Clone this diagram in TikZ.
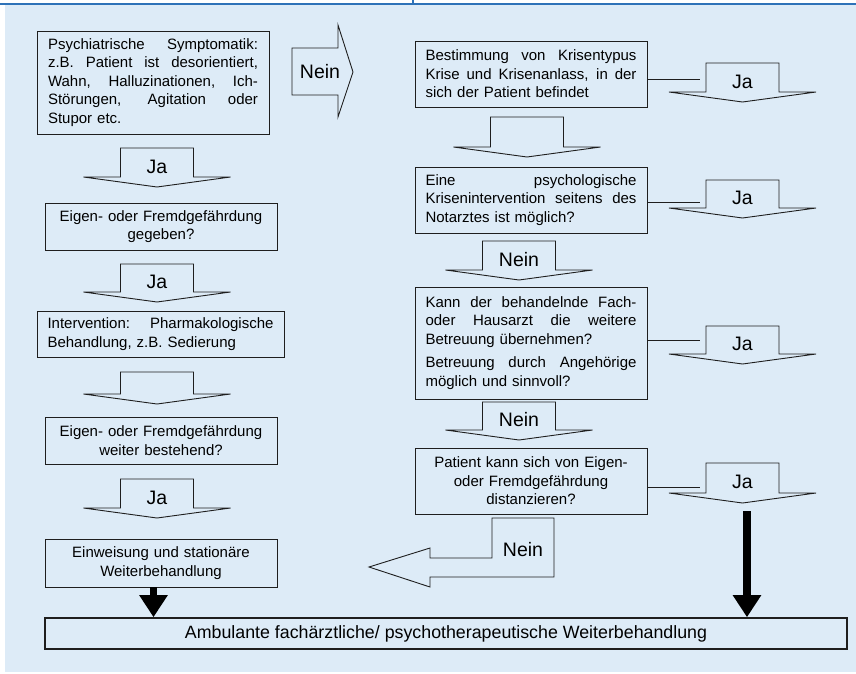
\documentclass[tikz,border=0pt]{standalone}
\usepackage{fontspec}
\setmainfont{Liberation Sans}
\usetikzlibrary{arrows.meta,calc}

\definecolor{bgblue}{HTML}{DDEBF7}
\definecolor{topblue}{HTML}{2E72B8}
\definecolor{linegray}{HTML}{1E1E1E}

\tikzset{
  box/.style={draw=linegray, line width=0.9pt, inner sep=0pt,
    font=\fontsize{15}{18.6}\selectfont},
  justbox/.style={box, text width=#1, align=left},
  centerbox/.style={box, text width=#1, align=center},
  blockarrow/.style={draw=linegray, line width=0.9pt, line join=miter},
  arrowlabel/.style={inner sep=0pt, font=\fontsize{19.5}{22}\selectfont},
  connector/.style={draw=linegray, line width=0.9pt},
  thickarrow/.style={draw=black, line width=7.5pt,
    -{Triangle[width=27pt,length=22pt]}}
}

% stretched line of a justified paragraph
\newcommand{\fullline}[1]{\makebox[\hsize][s]{\spaceskip=0pt\xspaceskip=0pt\relax #1}\\}

% block arrow pointing down: name, center x, top y, shoulder y, label
\newcommand{\downblock}[5]{%
  \draw[blockarrow] (#2-36.5,#3) -- (#2+36.5,#3) -- (#2+36.5,#4) -- (#2+73.5,#4)
    -- (#2,#4+10) -- (#2-73.5,#4) -- (#2-36.5,#4) -- cycle;
  \coordinate (#1-in) at (#2-42.5,#3);
  \coordinate (#1-tip) at (#2,#4+10);
  \node[arrowlabel] (#1) at (#2,{(#3+#4)/2+4}) {#5};
}

\begin{document}
\begin{tikzpicture}[x=1pt, y=-1pt]
  \useasboundingbox (0,0) rectangle (856,673);

  % --- background and top rule ---
  \fill[bgblue] (5,5) rectangle (856,672);
  \fill[topblue] (0,3) rectangle (856,5);
  \fill[topblue] (412,0) rectangle (414,5);

  % --- left column ---
  \node[justbox=210pt, minimum width=232pt, minimum height=103pt] (symptom) at (153,82.5) {%
    \fullline{Psychiatrische Symptomatik:}
    \fullline{z.B. Patient ist desorientiert,}
    \fullline{Wahn, Halluzinationen, Ich-}
    \fullline{Störungen, Agitation oder}
    Stupor etc.};
  \downblock{jaSym}{157}{148}{177}{Ja}

  \node[centerbox=225pt, minimum width=232pt, minimum height=47pt] (danger) at (161,226.5)
    {Eigen- oder Fremdgefährdung\\gegeben?};
  \downblock{jaDanger}{157}{264}{292}{Ja}

  \node[justbox=226pt, minimum width=247pt, minimum height=46pt] (pharma) at (160.5,334) {%
    \fullline{Intervention: Pharmakologische}
    Behandlung, z.B. Sedierung};
  \downblock{arrPharma}{157}{372}{394}{}

  \node[centerbox=225pt, minimum width=232pt, minimum height=47pt] (persist) at (161,440.5)
    {Eigen- oder Fremdgefährdung\\weiter bestehend?};
  \downblock{jaPersist}{157}{479}{508}{Ja}

  \node[centerbox=225pt, minimum width=232pt, minimum height=48pt] (admit) at (161,563)
    {Einweisung und stationäre\\Weiterbehandlung};

  % --- Nein to the right column ---
  \draw[blockarrow] (292,48) -- (338,48) -- (338,25) -- (353,72) -- (338,117)
    -- (338,95) -- (292,95) -- cycle;
  \node[arrowlabel] (neinSym) at (320,72) {Nein};

  % --- right column ---
  \node[justbox=211pt, minimum width=232pt, minimum height=66pt] (crisis) at (531,74) {%
    \fullline{Bestimmung von Krisentypus}
    \fullline{Krise und Krisenanlass, in der}
    sich der Patient befindet};
  \downblock{jaCrisis}{742.5}{63}{92}{Ja}
  \downblock{arrCrisis}{527}{117}{147}{}

  \node[justbox=211pt, minimum width=232pt, minimum height=66pt] (psych) at (531,200) {%
    \fullline{Eine psychologische}
    \fullline{Krisenintervention seitens des}
    Notarztes ist möglich?};
  \downblock{jaPsych}{742.5}{180}{208}{Ja}
  \downblock{neinPsych}{519}{241}{270}{Nein}

  \node[justbox=211pt, minimum width=232pt, minimum height=112pt] (care) at (531,343) {%
    \fullline{Kann der behandelnde Fach-}
    \fullline{oder Hausarzt die weitere}
    Betreuung übernehmen?\\[5pt]
    \fullline{Betreuung durch Angehörige}
    möglich und sinnvoll?};
  \downblock{jaCare}{742.5}{326}{354}{Ja}
  \downblock{neinCare}{519}{402}{430}{Nein}

  \node[centerbox=211pt, minimum width=232pt, minimum height=66pt] (distance) at (531,481)
    {Patient kann sich von Eigen-\\oder Fremdgefährdung\\distanzieren?};
  \downblock{jaDist}{742.5}{463}{493}{Ja}

  % --- Nein back to the left column ---
  \draw[blockarrow] (492,518) -- (554,518) -- (554,577) -- (430,577) -- (430,587)
    -- (369,567) -- (430,548) -- (430,558) -- (492,558) -- cycle;
  \node[arrowlabel] (neinDist) at (523,550) {Nein};

  % --- connectors to the Ja arrows ---
  \draw[connector] ([yshift=-5pt]crisis.east) -- ([yshift=-5pt]crisis.east -| jaCrisis-in);
  \draw[connector] ([yshift=-2pt]psych.east) -- ([yshift=-2pt]psych.east -| jaPsych-in);
  \draw[connector] ([yshift=3pt]care.east) -- ([yshift=3pt]care.east -| jaCare-in);
  \draw[connector] ([yshift=-6pt]distance.east) -- ([yshift=-6pt]distance.east -| jaDist-in);

  % --- outpatient care ---
  \node[box, line width=1.6pt, minimum width=802pt, minimum height=31pt,
    font=\fontsize{17.8}{20}\selectfont] (amb) at (446,633.5)
    {Ambulante fachärztliche/ psychotherapeutische Weiterbehandlung};

  \draw[thickarrow] ([xshift=-7.5pt]admit.south) -- ([xshift=-7.5pt]admit.south |- amb.north);
  \draw[thickarrow] ([xshift=4.5pt,yshift=-8pt]jaDist-tip) -- ([xshift=4.5pt]jaDist-tip |- amb.north);
\end{tikzpicture}
\end{document}
